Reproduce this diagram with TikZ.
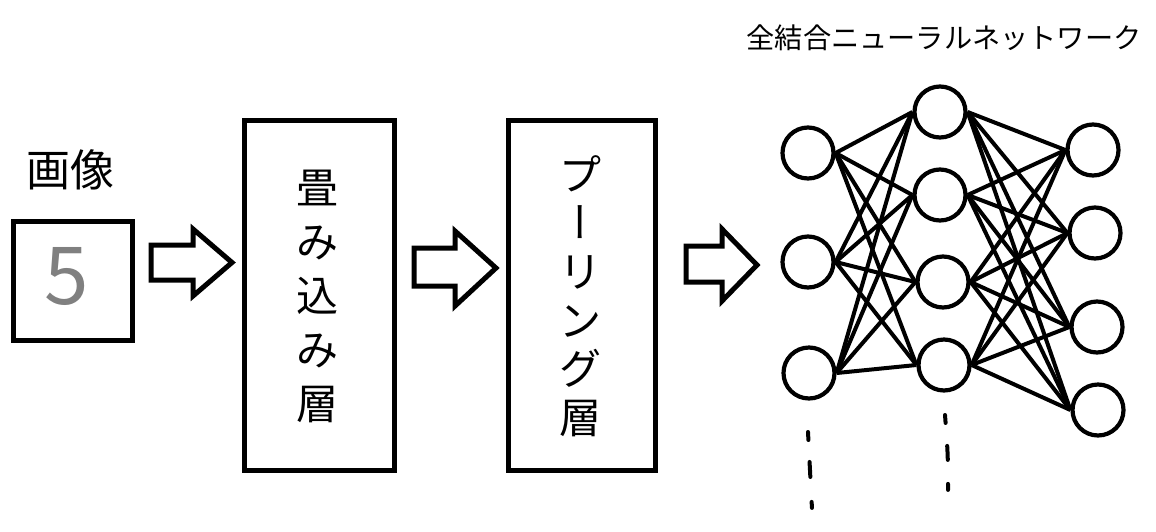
\documentclass[tikz,border=0pt]{standalone}
\usepackage{fontspec}
\setmainfont{Noto Sans CJK JP}
\newfontfamily\jpv[RawFeature=+vert]{Noto Sans CJK JP}
\begin{document}
\begin{tikzpicture}[x=1pt,y=-1pt,
  thickline/.style={line width=5pt},
  layerbox/.style={draw,thickline,minimum width=150pt,minimum height=350pt,inner sep=0pt},
  blockarrow/.style={draw,line width=5pt,line join=miter},
  neuron/.style={circle,draw,line width=4.2pt,fill=white,minimum size=51pt,inner sep=0pt},
  edge/.style={line width=4pt},
  dots/.style={line width=4pt,line cap=round},
  vtext/.style={align=center,inner sep=0pt,font=\fontsize{42}{54}\selectfont}
]
\useasboundingbox (0,0) rectangle (1156,531);

% image
\node (imglabel) at (70,170) {\fontsize{44}{50}\selectfont 画像};
\node[draw,thickline,minimum width=119pt,minimum height=119pt,inner sep=0pt] (img) at (73,281) {};
\node[text=black!50] (digit) at (67,276) {\fontsize{80}{80}\selectfont 5};

% conv and pooling boxes
\node[layerbox] (conv) at (319,295.5) {};
\node[vtext] (convtext) at (317,296) {畳\\み\\込\\み\\層};
\node[layerbox,minimum width=147pt] (pool) at (581.5,295.5) {};
\node[vtext,font=\fontsize{42}{48.6}\selectfont] (pooltext) at (580,296) {プ\\{\jpv ー}\\リ\\ン\\グ\\層};

% block arrows
\draw[blockarrow] (151,245) -- (193,245) -- (193,229) -- (232,262.5) -- (193,296) -- (193,280) -- (151,280) -- cycle;
\draw[blockarrow] (414,248) -- (455,248) -- (455,231) -- (496,268) -- (455,306) -- (455,286) -- (414,286) -- cycle;
\draw[blockarrow] (686,246) -- (722,246) -- (722,229) -- (757,265) -- (722,301) -- (722,282) -- (686,282) -- cycle;

% title
\node (title) at (944,38) {\fontsize{28.2}{30}\selectfont 全結合ニューラルネットワーク};

% neurons
\node[neuron] (a1) at (808,153) {};
\node[neuron] (a2) at (808,262) {};
\node[neuron] (a3) at (809,373) {};
\node[neuron] (b1) at (940,112) {};
\node[neuron] (b2) at (940,195) {};
\node[neuron] (b3) at (943,282) {};
\node[neuron] (b4) at (944,365) {};
\node[neuron] (c1) at (1093,150) {};
\node[neuron] (c2) at (1095,233) {};
\node[neuron] (c3) at (1097,327) {};
\node[neuron] (c4) at (1098,410) {};

\foreach \i in {1,2,3}{
  \foreach \j in {1,2,3,4}{
    \draw[edge] (a\i.east) -- (b\j.west);
  }
}
\foreach \i in {1,2,3,4}{
  \foreach \j in {1,2,3,4}{
    \draw[edge] (b\i.east) -- (c\j.west);
  }
}

% continuation dots
\coordinate (d1s) at (808,432);
\coordinate (d1e) at (812,509);
\coordinate (d2s) at (945,415);
\coordinate (d2e) at (948,494);
\draw[dots,dash pattern=on 8pt off 22pt on 15pt off 25pt on 6pt] (d1s) .. controls (810,470) .. (d1e);
\draw[dots,dash pattern=on 8pt off 23pt on 14pt off 24pt on 6pt] (d2s) .. controls (948,455) .. (d2e);
\end{tikzpicture}
\end{document}
